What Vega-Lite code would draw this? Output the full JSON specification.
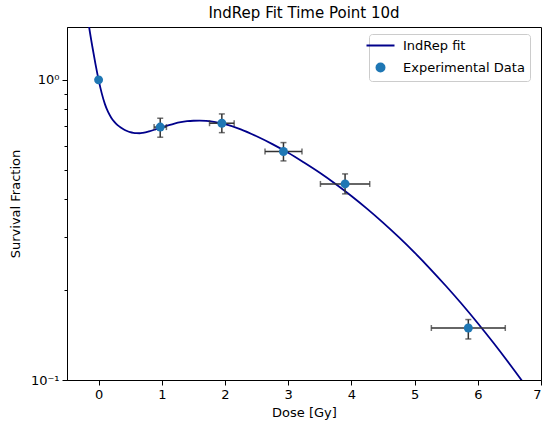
{
  "$schema": "https://vega.github.io/schema/vega-lite/v6.json",
  "width": 474,
  "height": 353,
  "autosize": {"type": "none"},
  "padding": {"left": 67, "top": 27, "right": 1, "bottom": 42},
  "title": {"text": "IndRep Fit Time Point 10d", "fontSize": 15, "fontWeight": "normal", "font": "DejaVu Sans", "color": "black", "offset": 6},
  "config": {
    "font": "DejaVu Sans",
    "view": {"stroke": "black", "strokeWidth": 1},
    "axis": {"grid": false, "domainColor": "black", "tickColor": "black", "labelColor": "black", "titleColor": "black", "labelFontSize": 13, "titleFontSize": 13, "titleFontWeight": "normal", "labelFont": "DejaVu Sans", "titleFont": "DejaVu Sans"}
  },
  "datasets": {
    "fit": [
      {"dose": -0.16, "sf": 1.549, "series": "IndRep fit"},
      {"dose": -0.15, "sf": 1.5, "series": "IndRep fit"},
      {"dose": -0.1, "sf": 1.2942, "series": "IndRep fit"},
      {"dose": -0.05, "sf": 1.1297, "series": "IndRep fit"},
      {"dose": 0, "sf": 1.0, "series": "IndRep fit"},
      {"dose": 0.05, "sf": 0.9016, "series": "IndRep fit"},
      {"dose": 0.1, "sf": 0.8299, "series": "IndRep fit"},
      {"dose": 0.15, "sf": 0.7816, "series": "IndRep fit"},
      {"dose": 0.2, "sf": 0.7482, "series": "IndRep fit"},
      {"dose": 0.25, "sf": 0.7244, "series": "IndRep fit"},
      {"dose": 0.3, "sf": 0.7063, "series": "IndRep fit"},
      {"dose": 0.35, "sf": 0.6934, "series": "IndRep fit"},
      {"dose": 0.4, "sf": 0.6831, "series": "IndRep fit"},
      {"dose": 0.45, "sf": 0.6753, "series": "IndRep fit"},
      {"dose": 0.5, "sf": 0.6691, "series": "IndRep fit"},
      {"dose": 0.55, "sf": 0.6656, "series": "IndRep fit"},
      {"dose": 0.6, "sf": 0.6642, "series": "IndRep fit"},
      {"dose": 0.65, "sf": 0.664, "series": "IndRep fit"},
      {"dose": 0.7, "sf": 0.666, "series": "IndRep fit"},
      {"dose": 0.8, "sf": 0.6737, "series": "IndRep fit"},
      {"dose": 0.9, "sf": 0.6839, "series": "IndRep fit"},
      {"dose": 1.0, "sf": 0.695, "series": "IndRep fit"},
      {"dose": 1.1, "sf": 0.7055, "series": "IndRep fit"},
      {"dose": 1.2, "sf": 0.7153, "series": "IndRep fit"},
      {"dose": 1.3, "sf": 0.7231, "series": "IndRep fit"},
      {"dose": 1.4, "sf": 0.7282, "series": "IndRep fit"},
      {"dose": 1.5, "sf": 0.7308, "series": "IndRep fit"},
      {"dose": 1.6, "sf": 0.7315, "series": "IndRep fit"},
      {"dose": 1.7, "sf": 0.7298, "series": "IndRep fit"},
      {"dose": 1.8, "sf": 0.7256, "series": "IndRep fit"},
      {"dose": 1.9, "sf": 0.7194, "series": "IndRep fit"},
      {"dose": 2.0, "sf": 0.7115, "series": "IndRep fit"},
      {"dose": 2.25, "sf": 0.6839, "series": "IndRep fit"},
      {"dose": 2.5, "sf": 0.6486, "series": "IndRep fit"},
      {"dose": 2.75, "sf": 0.6109, "series": "IndRep fit"},
      {"dose": 3.0, "sf": 0.5715, "series": "IndRep fit"},
      {"dose": 3.25, "sf": 0.5302, "series": "IndRep fit"},
      {"dose": 3.5, "sf": 0.4901, "series": "IndRep fit"},
      {"dose": 3.75, "sf": 0.4499, "series": "IndRep fit"},
      {"dose": 4.0, "sf": 0.4103, "series": "IndRep fit"},
      {"dose": 4.25, "sf": 0.3717, "series": "IndRep fit"},
      {"dose": 4.5, "sf": 0.3345, "series": "IndRep fit"},
      {"dose": 4.75, "sf": 0.2991, "series": "IndRep fit"},
      {"dose": 5.0, "sf": 0.2657, "series": "IndRep fit"},
      {"dose": 5.25, "sf": 0.2343, "series": "IndRep fit"},
      {"dose": 5.5, "sf": 0.2053, "series": "IndRep fit"},
      {"dose": 5.75, "sf": 0.1788, "series": "IndRep fit"},
      {"dose": 6.0, "sf": 0.1546, "series": "IndRep fit"},
      {"dose": 6.25, "sf": 0.1328, "series": "IndRep fit"},
      {"dose": 6.5, "sf": 0.1133, "series": "IndRep fit"},
      {"dose": 6.75, "sf": 0.0961, "series": "IndRep fit"},
      {"dose": 6.9, "sf": 0.0868, "series": "IndRep fit"}
    ],
    "exp": [
      {"dose": 0, "sf": 1.0, "dose_lo": 0, "dose_hi": 0, "sf_lo": 1.0, "sf_hi": 1.0, "series": "Experimental Data"},
      {"dose": 0.975, "sf": 0.696, "dose_lo": 0.878, "dose_hi": 1.073, "sf_lo": 0.644, "sf_hi": 0.745, "series": "Experimental Data"},
      {"dose": 1.95, "sf": 0.717, "dose_lo": 1.755, "dose_hi": 2.145, "sf_lo": 0.667, "sf_hi": 0.77, "series": "Experimental Data"},
      {"dose": 2.925, "sf": 0.577, "dose_lo": 2.633, "dose_hi": 3.218, "sf_lo": 0.537, "sf_hi": 0.618, "series": "Experimental Data"},
      {"dose": 3.9, "sf": 0.45, "dose_lo": 3.51, "dose_hi": 4.29, "sf_lo": 0.417, "sf_hi": 0.486, "series": "Experimental Data"},
      {"dose": 5.85, "sf": 0.149, "dose_lo": 5.265, "dose_hi": 6.435, "sf_lo": 0.137, "sf_hi": 0.159, "series": "Experimental Data"}
    ]
  },
  "layer": [
    {
      "data": {"name": "fit"},
      "mark": {"type": "line", "clip": true, "strokeWidth": 1.8, "interpolate": "monotone"},
      "encoding": {
        "x": {"field": "dose", "type": "quantitative", "scale": {"domain": [-0.5, 7], "nice": false, "zero": false},
              "axis": {"title": "Dose [Gy]", "values": [0, 1, 2, 3, 4, 5, 6, 7], "format": "d", "tickSize": 5, "labelPadding": 3, "titlePadding": 5}},
        "y": {"field": "sf", "type": "quantitative", "scale": {"type": "log", "domain": [0.1, 1.5], "nice": false},
              "axis": {"title": "Survival Fraction", "values": [0.1, 0.2, 0.3, 0.4, 0.5, 0.6, 0.7, 0.8, 0.9, 1],
                       "labelExpr": "datum.value == 1 ? '10⁰' : (datum.value == 0.1 ? '10⁻¹' : '')",
                       "tickSize": {"condition": {"test": "datum.value == 1 || datum.value == 0.1", "value": 5}, "value": 3},
                       "labelPadding": 3, "titlePadding": 8}},
        "color": {"field": "series", "type": "nominal",
                  "scale": {"domain": ["IndRep fit", "Experimental Data"], "range": ["#00008b", "#1f77b4"]},
                  "legend": {"title": null, "orient": "none", "legendX": 302, "legendY": 7,
                             "labelFontSize": 13, "labelFont": "DejaVu Sans", "labelColor": "black", "labelOffset": 16,
                             "padding": 5, "rowPadding": 6, "strokeColor": "#cccccc", "fillColor": "white", "cornerRadius": 3,
                             "symbolStrokeWidth": 2, "symbolSize": 784, "symbolType": "stroke",
                             "encode": {"symbols": {"update": {
                               "shape": {"signal": "datum.value == 'IndRep fit' ? 'stroke' : 'circle'"},
                               "size": {"signal": "datum.value == 'IndRep fit' ? 784 : 64"},
                               "fill": {"signal": "datum.value == 'IndRep fit' ? 'transparent' : '#1f77b4'"},
                               "stroke": {"signal": "datum.value == 'IndRep fit' ? '#00008b' : 'transparent'"},
                               "opacity": {"value": 1}
                             }}}}}
      }
    },
    {
      "data": {"name": "exp"},
      "mark": {"type": "rule", "color": "#333333", "strokeWidth": 1.5},
      "encoding": {"x": {"field": "dose_lo", "type": "quantitative"}, "x2": {"field": "dose_hi"}, "y": {"field": "sf", "type": "quantitative"}}
    },
    {
      "data": {"name": "exp"},
      "mark": {"type": "rule", "color": "#333333", "strokeWidth": 1.5},
      "encoding": {"x": {"field": "dose", "type": "quantitative"}, "y": {"field": "sf_lo", "type": "quantitative"}, "y2": {"field": "sf_hi"}}
    },
    {
      "data": {"name": "exp"},
      "mark": {"type": "tick", "orient": "horizontal", "color": "#333333", "size": 6, "thickness": 1.5},
      "encoding": {"x": {"field": "dose", "type": "quantitative"}, "y": {"field": "sf_lo", "type": "quantitative"}}
    },
    {
      "data": {"name": "exp"},
      "mark": {"type": "tick", "orient": "horizontal", "color": "#333333", "size": 6, "thickness": 1.5},
      "encoding": {"x": {"field": "dose", "type": "quantitative"}, "y": {"field": "sf_hi", "type": "quantitative"}}
    },
    {
      "data": {"name": "exp"},
      "mark": {"type": "tick", "orient": "vertical", "color": "#333333", "size": 6, "thickness": 1.5},
      "encoding": {"x": {"field": "dose_lo", "type": "quantitative"}, "y": {"field": "sf", "type": "quantitative"}}
    },
    {
      "data": {"name": "exp"},
      "mark": {"type": "tick", "orient": "vertical", "color": "#333333", "size": 6, "thickness": 1.5},
      "encoding": {"x": {"field": "dose_hi", "type": "quantitative"}, "y": {"field": "sf", "type": "quantitative"}}
    },
    {
      "data": {"name": "exp"},
      "mark": {"type": "point", "filled": true, "opacity": 1, "size": 80},
      "encoding": {"x": {"field": "dose", "type": "quantitative"}, "y": {"field": "sf", "type": "quantitative"},
                   "color": {"field": "series", "type": "nominal"}}
    }
  ]
}
